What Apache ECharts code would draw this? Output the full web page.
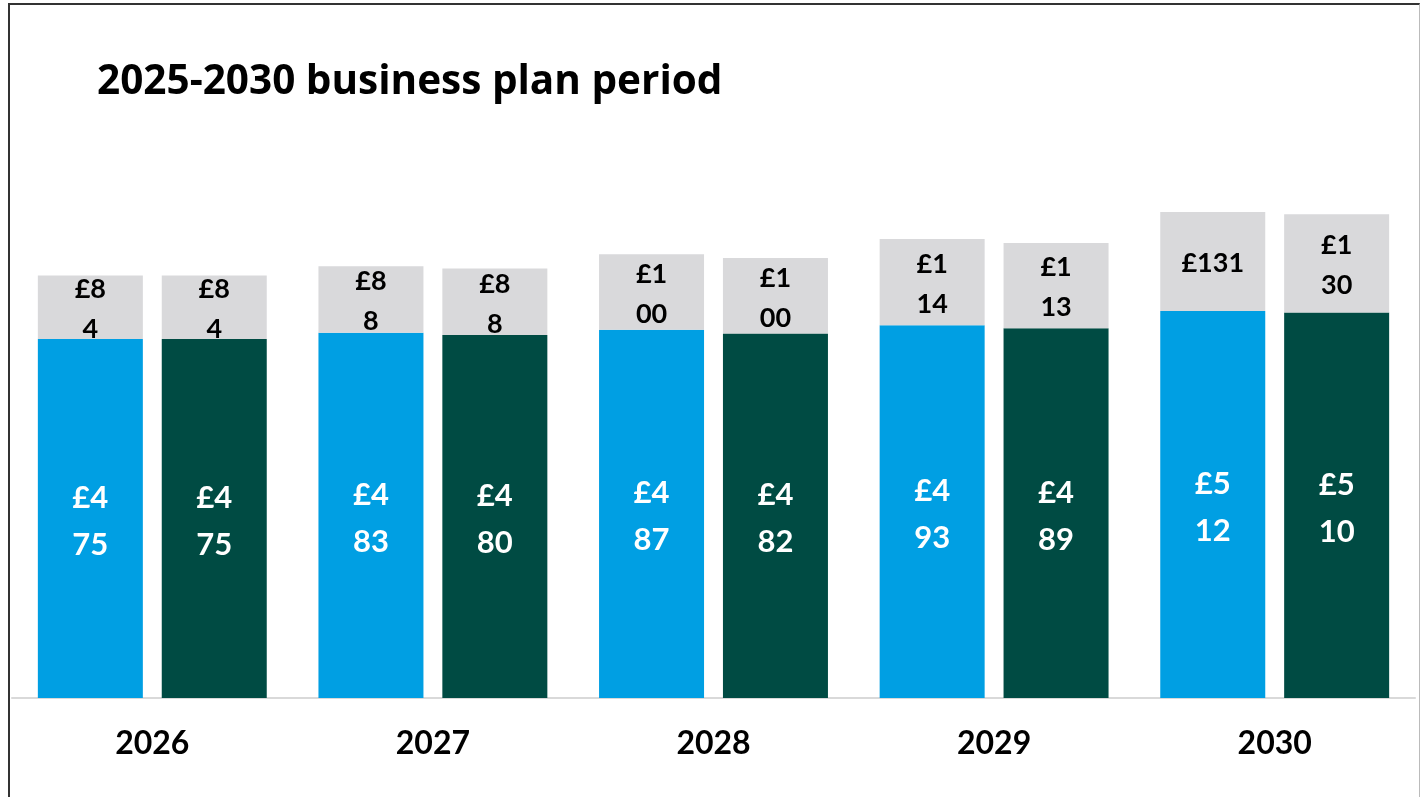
<!DOCTYPE html>
<html>
<head>
<meta charset="utf-8">
<script src="https://cdn.jsdelivr.net/npm/echarts@6/dist/echarts.min.js"></script>
<style>
html,body{margin:0;padding:0;background:#fff;}
#frame{position:absolute;left:8px;top:3px;width:1412px;height:810px;border-left:2px solid #333;border-top:2px solid #333;border-right:1px solid #bbb;box-sizing:border-box;pointer-events:none;}
#chart{position:absolute;left:0;top:0;width:1422px;height:797px;}
</style>
</head>
<body>
<div id="frame"></div>
<div id="chart"></div>
<script>
const categories = ['2026', '2027', '2028', '2029', '2030'];
const blueBase = [475, 483, 487, 493, 512];
const blueTop = [84, 88, 100, 114, 131];
const greenBase = [475, 480, 482, 489, 510];
const greenTop = [84, 88, 100, 113, 130];
// labels in the reference wrap after two characters, except the 2030 blue top
const noWrap = { blueTop: [4] };

function fmt(name) {
  return function (p) {
    const s = '£' + p.value;
    if (noWrap[name] && noWrap[name].indexOf(p.dataIndex) >= 0) return s;
    return s.slice(0, 2) + '\n' + s.slice(2);
  };
}

const font = 'Lato, "Open Sans", sans-serif';
const whiteLabel = (name) => ({
  show: true, position: 'inside', offset: [0, 3], color: '#fff', fontFamily: font,
  fontWeight: 'bold', fontSize: 31, lineHeight: 47, formatter: fmt(name)
});
const greyLabel = (name) => ({
  show: true, position: 'inside', offset: [0, 2], color: '#000', fontFamily: font,
  fontWeight: 'bold', fontSize: 27, lineHeight: 40, formatter: fmt(name)
});

const chart = echarts.init(document.getElementById('chart'));
chart.setOption({
  animation: false,
  title: {
    text: '2025-2030 business plan period',
    left: 92, top: 57,
    textStyle: { fontFamily: '"Open Sans", Lato, sans-serif', fontWeight: 'bold', fontSize: 40.5, color: '#000' }
  },
  grid: { left: 12, right: 7, top: 131, bottom: 99 },
  xAxis: {
    type: 'category', data: categories,
    axisLine: { lineStyle: { color: '#d9d9d9', width: 2 } },
    axisTick: { show: false },
    axisLabel: { margin: 30, color: '#000', fontFamily: font, fontWeight: 'bold', fontSize: 32 }
  },
  yAxis: { type: 'value', min: 0, max: 750, show: false, splitLine: { show: false } },
  series: [
    { name: 'blueBase', type: 'bar', stack: 'a', data: blueBase, barWidth: 105, barGap: '18%',
      itemStyle: { color: '#009fe3' }, label: whiteLabel('blueBase') },
    { name: 'blueTop', type: 'bar', stack: 'a', data: blueTop, barWidth: 105, barGap: '18%',
      itemStyle: { color: '#d9d9db' }, label: greyLabel('blueTop') },
    { name: 'greenBase', type: 'bar', stack: 'b', data: greenBase, barWidth: 105, barGap: '18%',
      itemStyle: { color: '#004b43' }, label: whiteLabel('greenBase') },
    { name: 'greenTop', type: 'bar', stack: 'b', data: greenTop, barWidth: 105, barGap: '18%',
      itemStyle: { color: '#d9d9db' }, label: greyLabel('greenTop') }
  ]
});
</script>
</body>
</html>
